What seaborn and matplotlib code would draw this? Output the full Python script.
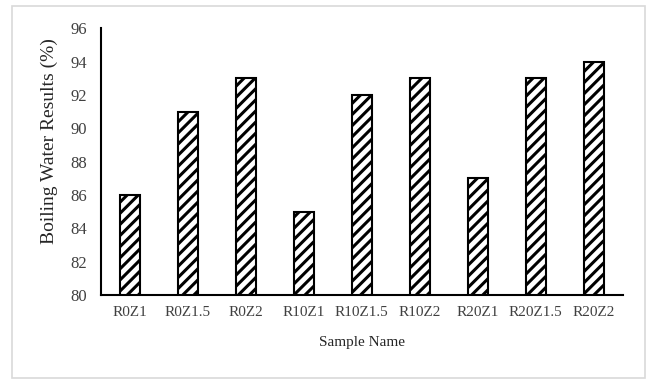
import matplotlib
matplotlib.use("Agg")
import matplotlib.pyplot as plt
import seaborn as sns
import pandas as pd
from matplotlib.patches import Rectangle

# Chart data
samples = ["R0Z1", "R0Z1.5", "R0Z2", "R10Z1", "R10Z1.5", "R10Z2", "R20Z1", "R20Z1.5", "R20Z2"]
boiling = [86, 91, 93, 85, 92, 93, 87, 93, 94]

df = pd.DataFrame({"Sample Name": samples, "Boiling": boiling})

sns.set_style("white")
plt.rcParams["font.family"] = ["Liberation Serif", "DejaVu Serif"]
plt.rcParams["hatch.linewidth"] = 2.2
plt.rcParams["hatch.color"] = "black"

fig = plt.figure(figsize=(6.52, 3.81), dpi=100)
ax = fig.add_axes([0.155, 0.226, 0.80, 0.700])

sns.barplot(data=df, x="Sample Name", y="Boiling", color="white", width=0.345,
            edgecolor="black", linewidth=1.5, ax=ax)
for bar in ax.patches:
    bar.set_hatch("///")
    bar.set_edgecolor("black")

ax.set_ylim(80, 96)
ax.set_yticks(range(80, 97, 2))
ax.set_xlim(-0.5, len(samples) - 0.5)
ax.set_xlabel("Sample Name", fontsize=11, labelpad=12, color="#262626")
ax.set_ylabel("Boiling Water Results (%)", fontsize=14, color="#262626")
ax.yaxis.set_label_coords(-0.083, 0.575)
ax.tick_params(axis="x", labelsize=11, length=0, pad=8, colors="#404040")
ax.tick_params(axis="y", labelsize=12, length=0, pad=10, colors="#404040")

for side in ["top", "right"]:
    ax.spines[side].set_visible(False)
for side in ["left", "bottom"]:
    ax.spines[side].set_color("black")
    ax.spines[side].set_linewidth(1.5)

# light frame around the chart area
fig.patches.append(Rectangle((12 / 652, 3 / 381), 633 / 652, 372 / 381, transform=fig.transFigure,
                             fill=False, edgecolor="#d9d9d9", linewidth=1.2))

fig.savefig("out.png", dpi=100)
